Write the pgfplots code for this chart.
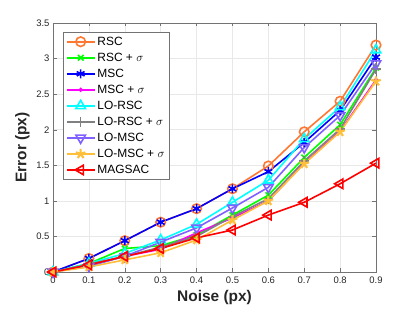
\documentclass[border=0pt]{standalone}
\usepackage{pgfplots}
\pgfplotsset{compat=1.18}
\usepackage{fontspec}
\setmainfont{Liberation Sans}
\definecolor{cRSC}{rgb}{1,0.47,0.2}
\definecolor{cGreen}{rgb}{0,1,0}
\definecolor{cBlue}{rgb}{0,0,1}
\definecolor{cMag}{rgb}{1,0,1}
\definecolor{cCyan}{rgb}{0,1,1}
\definecolor{cGray}{rgb}{0.5,0.5,0.5}
\definecolor{cPurp}{rgb}{0.5,0.38,1}
\definecolor{cYel}{rgb}{1,0.75,0.22}
\definecolor{cRed}{rgb}{1,0,0}
\definecolor{axgray}{rgb}{0.45,0.45,0.45}
\definecolor{txgray}{rgb}{0.15,0.15,0.15}
\begin{document}
\begin{tikzpicture}
\begin{axis}[
  scale only axis,
  width=323bp, height=249bp,
  xmin=0, xmax=0.9, ymin=0, ymax=3.5,
  xtick={0,0.1,...,0.9}, ytick={0,0.5,...,3.5},
  tick align=inside,
  major tick length=3.5bp,
  grid=major,
  grid style={gray!18, line width=0.5pt},
  axis line style={axgray, line width=0.7pt},
  every tick/.style={axgray},
  tick label style={font=\fontsize{9.5}{11}\selectfont, text=txgray},
  /pgf/number format/assume math mode=true,
  xticklabel style={/pgf/number format/fixed, /pgf/number format/precision=1, yshift=-1bp},
  yticklabel style={/pgf/number format/fixed, /pgf/number format/precision=1},
  xlabel={\textbf{Noise (px)}},
  ylabel={\textbf{Error (px)}},
  label style={font=\fontsize{15.5}{17}\selectfont, text=txgray},
  legend style={at={(0.031,0.964)}, anchor=north west, font=\fontsize{12}{13}\selectfont,
     draw=axgray, line width=0.7pt, row sep=2.2bp, inner sep=2.5pt,
     cells={anchor=west}},
  legend cell align=left,
  legend image code/.code={\draw[mark repeat=2,mark phase=2] plot coordinates {(0bp,0bp)(14bp,0bp)(28bp,0bp)};},
  every axis plot/.append style={line width=1.6pt},
]
\addplot[cRSC, mark=o, mark size=4.8pt] coordinates {(0,0)(0.1,0.19)(0.2,0.44)(0.3,0.70)(0.4,0.89)(0.5,1.17)(0.6,1.49)(0.7,1.97)(0.8,2.40)(0.9,3.19)};
\addlegendentry{RSC}
\addplot[cGreen, mark=x, mark size=4pt] coordinates {(0,0)(0.1,0.12)(0.2,0.33)(0.3,0.37)(0.4,0.52)(0.5,0.80)(0.6,1.08)(0.7,1.61)(0.8,2.07)(0.9,2.87)};
\addlegendentry{RSC + $\sigma$}
\addplot[cBlue, mark=asterisk, mark size=4.5pt] coordinates {(0,0)(0.1,0.19)(0.2,0.44)(0.3,0.70)(0.4,0.89)(0.5,1.17)(0.6,1.41)(0.7,1.82)(0.8,2.27)(0.9,3.02)};
\addlegendentry{MSC}
\addplot[cMag, mark=*, mark size=1.3pt] coordinates {(0,0)(0.1,0.10)(0.2,0.22)(0.3,0.32)(0.4,0.55)(0.5,0.76)(0.6,1.00)(0.7,1.53)(0.8,1.98)(0.9,2.70)};
\addlegendentry{MSC + $\sigma$}
\addplot[cCyan, mark=triangle, mark size=5.5pt] coordinates {(0,0)(0.1,0.12)(0.2,0.26)(0.3,0.45)(0.4,0.67)(0.5,0.98)(0.6,1.29)(0.7,1.87)(0.8,2.32)(0.9,3.12)};
\addlegendentry{LO-RSC}
\addplot[cGray, mark=+, mark size=4.8pt] coordinates {(0,0)(0.1,0.11)(0.2,0.22)(0.3,0.35)(0.4,0.50)(0.5,0.78)(0.6,1.03)(0.7,1.56)(0.8,2.01)(0.9,2.85)};
\addlegendentry{LO-RSC + $\sigma$}
\addplot[cPurp, mark=triangle, mark options={rotate=180}, mark size=5.5pt] coordinates {(0,0)(0.1,0.08)(0.2,0.22)(0.3,0.42)(0.4,0.62)(0.5,0.90)(0.6,1.19)(0.7,1.75)(0.8,2.20)(0.9,2.93)};
\addlegendentry{LO-MSC}
\addplot[cYel, mark=star, mark size=5pt, mark options={fill=cYel, line width=2.2pt}] coordinates {(0,0)(0.1,0.07)(0.2,0.17)(0.3,0.27)(0.4,0.45)(0.5,0.73)(0.6,1.00)(0.7,1.52)(0.8,1.97)(0.9,2.68)};
\addlegendentry{LO-MSC + $\sigma$}
\addplot[cRed, mark=triangle, mark options={rotate=90}, mark size=5.5pt] coordinates {(0,0)(0.1,0.10)(0.2,0.22)(0.3,0.33)(0.4,0.48)(0.5,0.59)(0.6,0.80)(0.7,0.98)(0.8,1.24)(0.9,1.53)};
\addlegendentry{MAGSAC}
\end{axis}
\path (current axis.south west) ++(-53bp,-39bp) coordinate (bbA);
\path (current axis.north east) ++(39bp,23bp) coordinate (bbB);
\useasboundingbox (bbA) rectangle (bbB);
\end{tikzpicture}
\end{document}
